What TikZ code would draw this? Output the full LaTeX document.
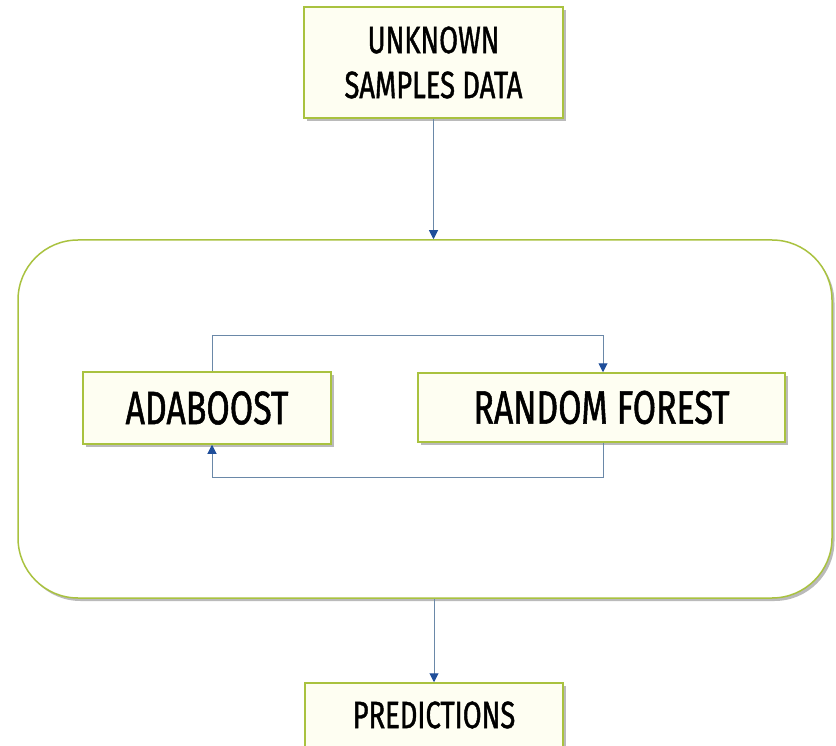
\documentclass[tikz,border=0pt]{standalone}
\usepackage{fontspec}
\setmainfont{Fira Sans}[FakeStretch=0.72, FakeBold=1.1]
\usetikzlibrary{arrows.meta,shadows}

\definecolor{boxline}{HTML}{A9C23F}
\definecolor{boxfill}{HTML}{FEFEF2}
\definecolor{linkline}{HTML}{6A88A8}
\definecolor{tipblue}{HTML}{1F4E9A}

\tikzset{
  stepbox/.style={draw=boxline, line width=1.5pt, fill=boxfill,
    inner sep=0pt, align=center, text=black,
    drop shadow={shadow xshift=2.5pt, shadow yshift=-3pt, fill=black!45, opacity=0.6}},
  panelbox/.style={draw=boxline, line width=1.5pt, fill=white, rounded corners=60pt,
    inner sep=0pt,
    drop shadow={shadow xshift=2.5pt, shadow yshift=-3pt, fill=black!45, opacity=0.6}},
  conn/.style={draw=linkline, line width=1pt,
    -{Triangle[width=9pt,length=9pt,color=tipblue]}},
  bigtext/.style={font=\fontsize{47}{52}\selectfont},
  smalltext/.style={font=\fontsize{38}{45}\selectfont},
}

\begin{document}
\begin{tikzpicture}[x=1pt, y=-1pt]
  \useasboundingbox (0,0) rectangle (836,746);

  % outer container
  \node[panelbox, minimum width=814pt, minimum height=358pt] (panel) at (425,419) {};

  % boxes
  \node[stepbox, smalltext, minimum width=259pt, minimum height=111pt] (top) at (433.5,62.5)
    {UNKNOWN\\SAMPLES DATA};
  \node[stepbox, bigtext, minimum width=248pt, minimum height=72pt] (ada) at (207,408)
    {ADABOOST};
  \node[stepbox, bigtext, minimum width=367pt, minimum height=69pt] (rf) at (601.5,407.5)
    {RANDOM FOREST};
  \node[stepbox, smalltext, minimum width=258pt, minimum height=64pt] (pred) at (434,715)
    {PREDICTIONS};

  % loop between the two models
  \coordinate (loopL) at (212,0);
  \coordinate (loopR) at (603,0);
  \coordinate (loopTop) at (0,336);
  \coordinate (loopBot) at (0,477);

  \draw[conn] (top.south) -- (top.south |- panel.north);
  \draw[conn] (ada.north -| loopL) |- (loopTop -| loopR) -- (rf.north -| loopR);
  \draw[conn] (rf.south -| loopR) |- (loopBot -| loopL) -- (ada.south -| loopL);
  \draw[conn] (pred.north |- panel.south) -- (pred.north);
\end{tikzpicture}
\end{document}
